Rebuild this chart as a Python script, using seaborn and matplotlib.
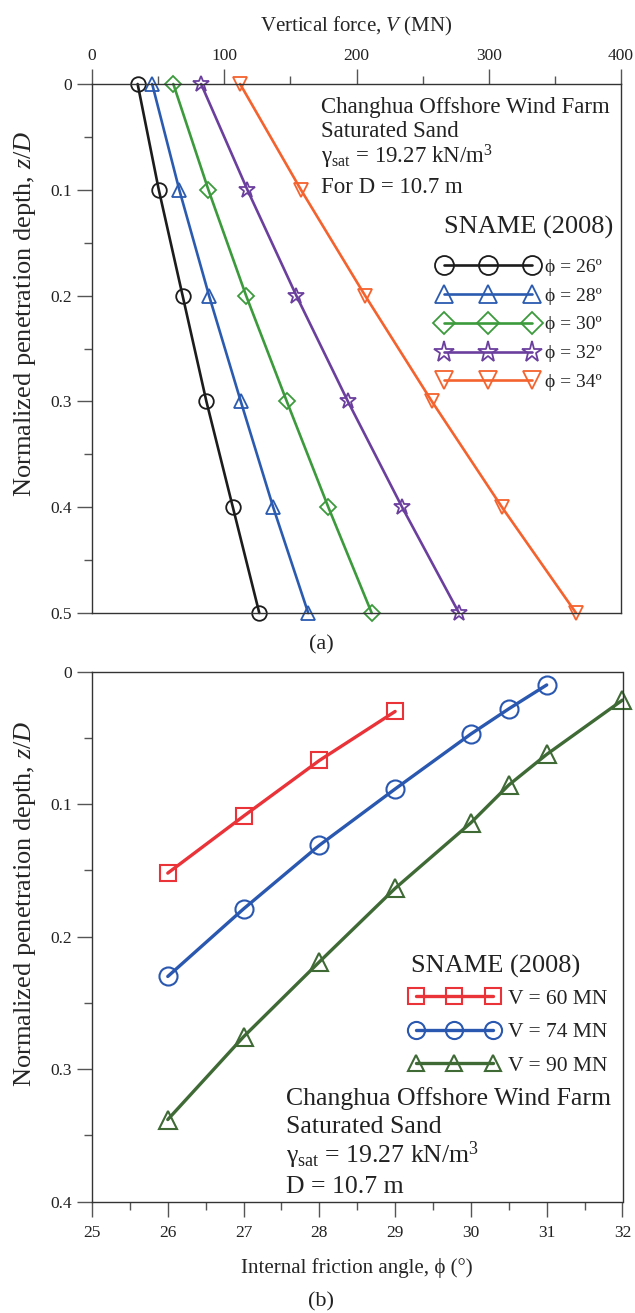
import numpy as np
import pandas as pd
import matplotlib
matplotlib.use("Agg")
import matplotlib.pyplot as plt
from matplotlib.ticker import MultipleLocator, FuncFormatter
import seaborn as sns

# ---------------- data ----------------
depth_ratio = [0.0, 0.1, 0.2, 0.3, 0.4, 0.5]
phi_labels = ["ϕ = 26º", "ϕ = 28º", "ϕ = 30º", "ϕ = 32º", "ϕ = 34º"]
force_phi26 = [34.5, 50.5, 68.5, 86.5, 106.5, 126.5]
force_phi28 = [45.5, 66.0, 88.5, 112.5, 137.0, 163.5]
force_phi30 = [61.5, 88.0, 116.5, 147.3, 178.7, 211.5]
force_phi32 = [82.5, 117.5, 154.5, 193.5, 234.5, 277.5]
force_phi34 = [112.0, 158.0, 206.5, 257.0, 310.0, 366.0]

force_labels = ["V = 60 MN", "V = 74 MN", "V = 90 MN"]
angle_v60 = [26, 27, 28, 29]
depth_v60 = [0.152, 0.109, 0.067, 0.030]
angle_v74 = [26, 27, 28, 29, 30, 30.5, 31]
depth_v74 = [0.230, 0.179, 0.131, 0.0885, 0.047, 0.028, 0.010]
angle_v90 = [26, 27, 28, 29, 30, 30.5, 31, 32]
depth_v90 = [0.338, 0.2755, 0.219, 0.1635, 0.114, 0.0855, 0.0624, 0.0214]

# ---------------- style ----------------
sns.set_theme(style="ticks")
plt.rcParams["font.family"] = ["Liberation Serif", "DejaVu Serif"]
plt.rcParams["mathtext.fontset"] = "custom"
plt.rcParams["mathtext.rm"] = "Liberation Serif"
plt.rcParams["mathtext.it"] = "Liberation Serif:italic"
plt.rcParams["mathtext.bf"] = "Liberation Serif:bold"
plt.rcParams["text.color"] = "#222222"

W, H = 635, 1313
fig = plt.figure(figsize=(W / 100, H / 100), dpi=100)
ax1 = fig.add_axes([92 / W, 1 - 613 / H, (621 - 92) / W, 529 / H])
ax2 = fig.add_axes([92 / W, 1 - 1201.7 / H, (622.5 - 92) / W, 530 / H])

spine_col = "#333333"
tick_fs = 12.5


def style_axis(ax):
    for s in ax.spines.values():
        s.set_visible(True)
        s.set_color(spine_col)
        s.set_linewidth(1.0)
    ax.tick_params(which="major", direction="out", length=11, width=1.0,
                   color="#555555", labelsize=tick_fs, labelcolor="#222222")
    ax.tick_params(which="minor", direction="out", length=5.5, width=1.0,
                   color="#555555")
    ax.grid(False)


fmt = FuncFormatter(lambda v, p: f"{v:g}")

# ---------------- panel (a) ----------------
top_series = [force_phi26, force_phi28, force_phi30, force_phi32, force_phi34]
top_colors = ["#1c1c1c", "#2b5bb0", "#3c9a3c", "#6b3f9e", "#f4622e"]
top_markers = ["o", "^", "D", "*", "v"]
top_msize = [10.5, 10.5, 8.5, 12, 10.5]

for vals, lab, col, mk, ms in zip(top_series, phi_labels, top_colors, top_markers, top_msize):
    sns.lineplot(x=vals, y=depth_ratio, ax=ax1, color=col, marker=mk,
                 markersize=ms, markerfacecolor="none", markeredgecolor=col,
                 markeredgewidth=1.3, linewidth=1.9, label=lab, sort=False,
                 estimator=None)

ax1.set_xlim(0, 400)
ax1.set_ylim(0.5, 0)
ax1.xaxis.tick_top()
ax1.xaxis.set_label_position("top")
ax1.xaxis.set_major_locator(MultipleLocator(100))
ax1.xaxis.set_minor_locator(MultipleLocator(50))
ax1.yaxis.set_major_locator(MultipleLocator(0.1))
ax1.yaxis.set_minor_locator(MultipleLocator(0.05))
ax1.yaxis.set_major_formatter(fmt)
style_axis(ax1)
ax1.tick_params(axis="x", which="both", top=True, bottom=False)
ax1.tick_params(axis="y", which="both", left=True, right=False)
ax1.set_xlabel(r"Vertical force, $V$ (MN)", fontsize=15, labelpad=11.5)
ax1.set_ylabel(r"Normalized penetration depth, $z/D$", fontsize=19, labelpad=9)
ax1.yaxis.label.set_y(0.565)

for line in ax1.lines:
    line.set_markerfacecolor("none")
    line.set_clip_on(False)

leg1 = ax1.legend(loc="upper left",
                  bbox_to_anchor=(0.655, 0.671), frameon=False, numpoints=3,
                  handlelength=5.1, handletextpad=0.4, labelspacing=0.58,
                  fontsize=14, borderpad=0,
                  borderaxespad=0, markerscale=1.3)
ax1.text(0.665, 0.7164, "SNAME (2008)", transform=ax1.transAxes,
         fontsize=19, va="baseline")

info_fs = 16.5
tx = 0.432
ax1.text(tx, 0.9446, "Changhua Offshore Wind Farm", transform=ax1.transAxes,
         fontsize=info_fs, va="baseline")
ax1.text(tx, 0.8992, "Saturated Sand", transform=ax1.transAxes,
         fontsize=info_fs, va="baseline")
ax1.text(tx, 0.850, r"γ$_{\mathrm{sat}}$ = 19.27 kN/m$^3$", transform=ax1.transAxes,
         fontsize=info_fs, va="baseline")
ax1.text(tx, 0.7945, "For D = 10.7 m", transform=ax1.transAxes,
         fontsize=info_fs, va="baseline")

fig.text(321 / W, 1 - 645 / H, "(a)", fontsize=16, ha="center", va="center")

# ---------------- panel (b) ----------------
bot_x = [angle_v60, angle_v74, angle_v90]
bot_y = [depth_v60, depth_v74, depth_v90]
bot_colors = ["#ea3339", "#2a58b0", "#3f6a36"]
bot_markers = ["s", "o", "^"]
bot_msize = [12, 13, 12.5]

for xs, ys, lab, col, mk, ms in zip(bot_x, bot_y, force_labels, bot_colors, bot_markers, bot_msize):
    sns.lineplot(x=xs, y=ys, ax=ax2, color=col, marker=mk, markersize=ms,
                 markerfacecolor="none", markeredgecolor=col,
                 markeredgewidth=1.5, linewidth=2.4, label=lab, sort=False,
                 estimator=None)

ax2.set_xlim(25, 32)
ax2.set_ylim(0.4, 0)
ax2.xaxis.set_major_locator(MultipleLocator(1))
ax2.xaxis.set_minor_locator(MultipleLocator(0.5))
ax2.yaxis.set_major_locator(MultipleLocator(0.1))
ax2.yaxis.set_minor_locator(MultipleLocator(0.05))
ax2.yaxis.set_major_formatter(fmt)
style_axis(ax2)
ax2.tick_params(axis="x", which="both", top=False, bottom=True)
ax2.tick_params(axis="x", which="major", pad=6)
ax2.tick_params(axis="y", which="both", left=True, right=False)
ax2.set_xlabel("Internal friction angle, ϕ (°)", fontsize=15, labelpad=12)
ax2.set_ylabel(r"Normalized penetration depth, $z/D$", fontsize=19, labelpad=9)
ax2.yaxis.label.set_y(0.562)

for line in ax2.lines:
    line.set_markerfacecolor("none")
    line.set_clip_on(False)

leg2 = ax2.legend(loc="upper left",
                  bbox_to_anchor=(0.598, 0.4015), frameon=False, numpoints=3,
                  handlelength=4.2, handletextpad=0.4, labelspacing=0.62,
                  fontsize=15.5, borderpad=0,
                  borderaxespad=0, markerscale=0.95)
ax2.text(0.6006, 0.4315, "SNAME (2008)", transform=ax2.transAxes,
         fontsize=19, va="baseline")

info_fs2 = 18.5
tx2 = 0.3656
ax2.text(tx2, 0.1825, "Changhua Offshore Wind Farm", transform=ax2.transAxes,
         fontsize=info_fs2, va="baseline")
ax2.text(tx2, 0.129, "Saturated Sand", transform=ax2.transAxes,
         fontsize=info_fs2, va="baseline")
ax2.text(tx2, 0.0736, r"γ$_{\mathrm{sat}}$ = 19.27 kN/m$^3$", transform=ax2.transAxes,
         fontsize=info_fs2, va="baseline")
ax2.text(tx2, 0.0158, "D = 10.7 m", transform=ax2.transAxes,
         fontsize=info_fs2, va="baseline")

fig.text(321 / W, 1 - 1302 / H, "(b)", fontsize=16, ha="center", va="center")

fig.savefig("out.png", dpi=100)
